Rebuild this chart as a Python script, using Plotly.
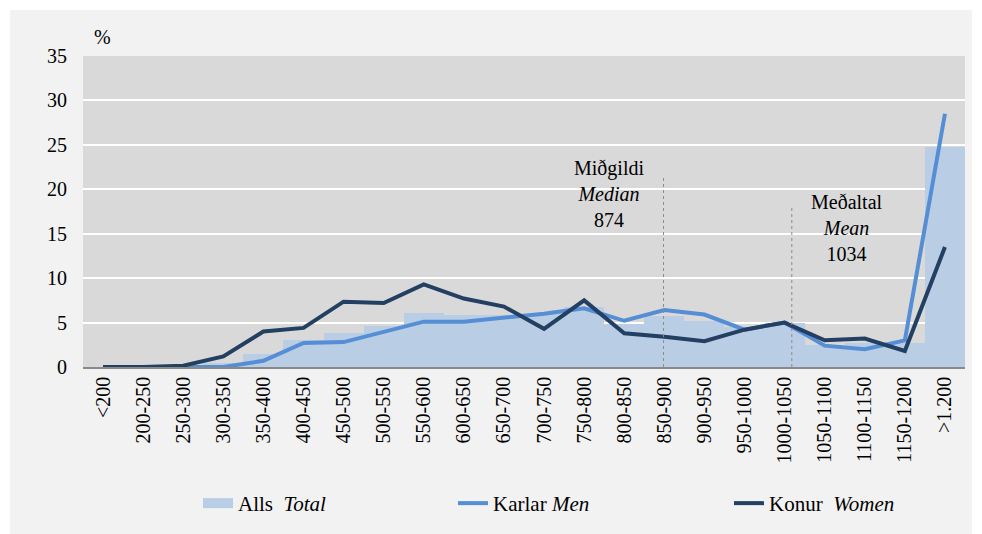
import plotly.graph_objects as go

# tekjubil (þús. kr.)
categories = ['<200', '200-250', '250-300', '300-350', '350-400', '400-450', '450-500',
              '500-550', '550-600', '600-650', '650-700', '700-750', '750-800', '800-850',
              '850-900', '900-950', '950-1000', '1000-1050', '1050-1100', '1100-1150',
              '1150-1200', '>1.200']

alls_total = [0.0, 0.0, 0.1, 0.5, 1.5, 3.0, 3.8, 4.6, 6.1, 5.8, 5.8, 6.0, 6.8, 4.8,
              5.7, 5.2, 4.5, 4.9, 2.5, 2.7, 2.7, 24.8]
karlar_men = [0.0, 0.0, 0.0, 0.0, 0.7, 2.7, 2.8, 3.9, 5.1, 5.1, 5.5, 6.0, 6.6, 5.2,
              6.4, 5.9, 4.2, 5.0, 2.4, 2.0, 3.0, 28.5]
konur_women = [0.0, 0.0, 0.15, 1.2, 4.0, 4.4, 7.35, 7.2, 9.3, 7.7, 6.8, 4.3, 7.5, 3.8,
               3.4, 2.9, 4.2, 5.0, 3.0, 3.2, 1.8, 13.5]

median_value = 874
mean_value = 1034

FONT = "Liberation Serif, Times New Roman, serif"
BAR_COLOR = "#b9cde5"

x = list(range(len(categories)))


def to_x(v):
    # miðja flokks i = 175 + 50*i
    return (v - 175) / 50


fig = go.Figure()

fig.add_trace(go.Bar(
    x=x, y=alls_total, name="Alls  <i>Total</i>", legendgroup="alls", showlegend=False,
    marker=dict(color=BAR_COLOR, line=dict(width=0)),
    width=1.0,
))
# breiðari merki í skýringu fyrir súlurnar
fig.add_trace(go.Scatter(
    x=[None], y=[None], name="Alls  <i>Total</i>", legendgroup="alls", mode="lines",
    line=dict(color=BAR_COLOR, width=11), legend="legend",
))
fig.add_trace(go.Scatter(
    x=x, y=karlar_men, name="Karlar <i>Men</i>", mode="lines",
    line=dict(color="#558ed5", width=4), legend="legend2",
))
fig.add_trace(go.Scatter(
    x=x, y=konur_women, name="Konur  <i>Women</i>", mode="lines",
    line=dict(color="#233f62", width=4), legend="legend3",
))

# bakgrunnur
fig.add_shape(type="rect", xref="paper", yref="paper",
              x0=-73 / 882, x1=1 + 7 / 882, y0=-167 / 311, y1=1 + 46 / 311,
              fillcolor="#f2f2f2", line=dict(width=0), layer="below")
fig.add_shape(type="rect", xref="paper", yref="paper", x0=0, x1=1, y0=0, y1=1,
              fillcolor="#d9d9d9", line=dict(width=0), layer="below")

# miðgildi og meðaltal
fig.add_shape(type="line", x0=to_x(median_value), x1=to_x(median_value), y0=0, y1=21.6,
              line=dict(color="#8c8c8c", width=1, dash="dot"))
fig.add_shape(type="line", x0=to_x(mean_value), x1=to_x(mean_value), y0=0, y1=18.0,
              line=dict(color="#8c8c8c", width=1, dash="dot"))

fig.add_annotation(x=12.62, y=23.9, yanchor="top", showarrow=False, align="center",
                   text=f"Miðgildi<br><i>Median</i><br>{median_value}",
                   font=dict(family=FONT, size=20, color="black"))
fig.add_annotation(x=18.55, y=20.0, yanchor="top", showarrow=False, align="center",
                   text=f"Meðaltal<br><i>Mean</i><br>{mean_value}",
                   font=dict(family=FONT, size=20, color="black"))

fig.add_annotation(xref="paper", yref="paper", x=19 / 882, y=1 + 19 / 311,
                   xanchor="center", yanchor="middle",
                   text="%", showarrow=False, font=dict(family=FONT, size=20, color="black"))

legend_style = dict(orientation="h", xanchor="left", yref="container", y=0.097,
                    yanchor="top", bgcolor="rgba(0,0,0,0)", font=dict(family=FONT, size=21))

fig.update_layout(
    width=974, height=526,
    margin=dict(l=75, r=17, t=48, b=167),
    paper_bgcolor="white",
    plot_bgcolor="rgba(0,0,0,0)",
    font=dict(family=FONT, size=20, color="black"),
    bargap=0,
    showlegend=True,
    legend=dict(x=0.1304, **legend_style),
    legend2=dict(x=0.4195, **legend_style),
    legend3=dict(x=0.7324, **legend_style),
)

fig.update_xaxes(
    range=[-0.5, len(categories) - 0.5],
    tickmode="array", tickvals=x, ticktext=categories,
    tickangle=-90, tickfont=dict(family=FONT, size=20),
    showgrid=False, zeroline=False,
    showline=True, linecolor="#898989", linewidth=1.5,
    ticks="", fixedrange=True,
)
fig.update_yaxes(
    range=[0, 35], dtick=5,
    showgrid=True, gridcolor="white", gridwidth=1.5,
    zeroline=False, showline=False,
    ticks="outside", ticklen=11, tickcolor="rgba(0,0,0,0)",
    tickfont=dict(family=FONT, size=20),
)

fig.write_html("out.html")
